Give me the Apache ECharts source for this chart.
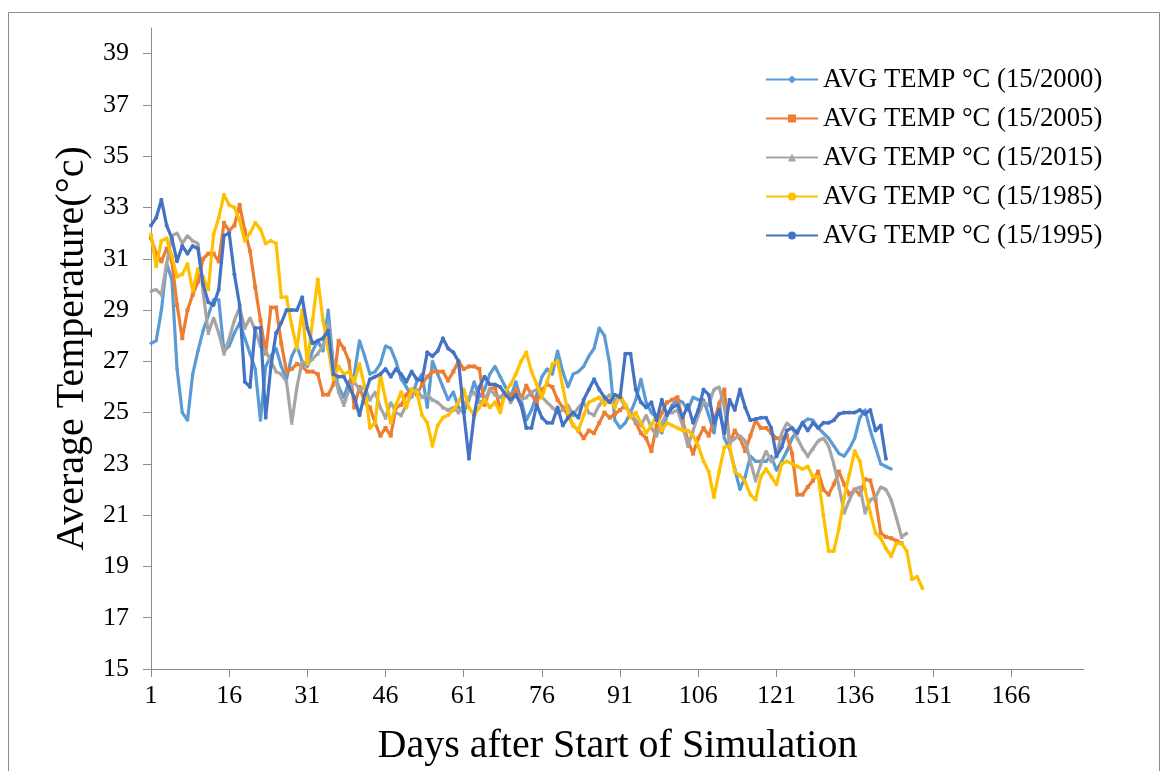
<!DOCTYPE html>
<html><head><meta charset="utf-8">
<script src="https://cdn.jsdelivr.net/npm/echarts@6.0.0/dist/echarts.min.js"></script>
<style>html,body{margin:0;padding:0;background:#fff}#c{width:1167px;height:771px}</style>
</head><body><div id="c"></div>
<script>
// ---- data ----
const days = []; for (let d = 1; d <= 180; d++) days.push(String(d));
const yTicks = [15, 17, 19, 21, 23, 25, 27, 29, 31, 33, 35, 37, 39];
const seriesNames = ['AVG TEMP °C (15/2000)', 'AVG TEMP °C (15/2005)', 'AVG TEMP °C (15/2015)', 'AVG TEMP °C (15/1985)', 'AVG TEMP °C (15/1995)'];

const temp2000 = [27.7, 27.8, 29.0, 30.8, 30.2, 26.7, 25.0, 24.7, 26.5, 27.4,
 28.2, 28.8, 29.4, 29.4, 27.4, 27.6, 28.1, 28.5, 27.9, 27.3,
 26.7, 24.7, 26.8, 27.2, 27.5, 26.8, 26.3, 27.2, 27.6, 27.0,
 26.8, 27.4, 27.8, 27.4, 29.0, 26.8, 26.0, 25.6, 26.2, 26.5,
 27.8, 27.2, 26.5, 26.6, 26.9, 27.6, 27.5, 27.0, 26.3, 26.0,
 25.6, 26.2, 26.5, 25.2, 27.0, 26.5, 26.0, 25.5, 25.8, 25.2,
 25.0, 25.5, 26.2, 25.6, 25.9, 26.5, 26.8, 26.4, 26.0, 25.6,
 26.2, 25.5, 24.7, 25.1, 25.7, 26.4, 26.7, 26.5, 27.4, 26.6,
 26.0, 26.5, 26.6, 26.8, 27.2, 27.5, 28.3, 28.0, 26.9, 24.7,
 24.4, 24.6, 25.0, 25.5, 26.3, 25.4, 25.0, 24.8, 24.2, 24.9,
 25.3, 25.5, 25.4, 25.1, 25.6, 25.5, 25.5, 24.9, 24.2, 25.4,
 24.0, 23.6, 22.8, 22.0, 22.5, 23.3, 23.1, 23.1, 23.1, 23.3,
 22.75, 23.1, 23.5, 24.0, 24.3, 24.6, 24.75, 24.7, 24.4, 24.2,
 24.0, 23.7, 23.4, 23.3, 23.6, 24.0, 24.8, 25.1, 24.3, 23.65,
 23.0, 22.9, 22.8];

const temp2005 = [31.8, 31.2, 30.9, 31.4, 30.9, 29.2, 27.9, 29.0, 29.6, 30.1,
 31.0, 31.2, 31.2, 30.9, 32.4, 32.1, 32.3, 33.1, 32.1, 31.3,
 29.9, 28.6, 27.3, 29.1, 29.1, 27.7, 26.6, 26.7, 26.9, 26.8,
 26.6, 26.6, 26.5, 25.7, 25.7, 26.1, 27.8, 27.5, 27.0, 25.2,
 26.0, 25.4, 25.2, 24.6, 24.1, 24.4, 24.1, 25.2, 25.3, 25.7,
 25.9, 25.7, 26.1, 26.4, 26.6, 26.6, 26.6, 26.25, 26.6, 27.0,
 26.7, 26.8, 26.8, 26.7, 25.3, 25.9, 26.0, 25.1, 25.8, 25.6,
 25.9, 25.5, 26.05, 25.7, 25.4, 25.9, 26.1, 26.0, 25.5, 25.2,
 24.9, 24.5, 24.3, 24.0, 24.3, 24.2, 24.6, 25.0, 24.8, 24.95,
 25.1, 25.3, 24.95, 24.6, 24.2, 24.0, 23.5, 24.5, 25.0, 25.4,
 25.5, 25.6, 24.7, 23.9, 23.4, 24.0, 24.4, 24.1, 24.7, 25.3,
 25.9, 23.8, 24.3, 24.0, 23.5, 24.1, 24.7, 24.4, 24.4, 24.2,
 24.0, 24.0, 24.1, 23.4, 21.8, 21.8, 22.1, 22.35, 22.7, 22.0,
 21.8, 22.2, 22.7, 22.2, 21.8, 22.0, 21.8, 22.4, 22.35, 21.6,
 20.3, 20.15, 20.1, 20.0, 19.9];

const temp2015 = [29.75, 29.8, 29.6, 30.8, 31.9, 32.0, 31.6, 31.9, 31.7, 31.6,
 29.7, 28.1, 28.7, 28.1, 27.3, 27.9, 28.6, 29.1, 28.3, 28.7,
 28.2, 27.6, 27.4, 27.0, 26.6, 26.5, 26.2, 24.6, 26.0, 27.0,
 26.9, 27.1, 27.3, 27.6, 28.5, 26.8, 25.8, 25.3, 25.9, 26.2,
 25.9, 26.0, 25.5, 25.8, 25.2, 24.8, 25.4, 25.0, 24.9, 25.3,
 25.7, 25.9, 25.6, 25.7, 25.5, 25.4, 25.2, 25.1, 25.2, 25.0,
 25.3, 25.6, 25.8, 25.4, 25.5, 25.9, 25.7, 25.6, 25.8, 25.4,
 25.7, 25.5, 25.6, 25.8, 25.9, 25.6, 25.4, 25.2, 25.0, 25.1,
 25.3, 24.9, 25.2, 25.4, 25.0, 24.9, 25.3, 25.5, 25.7, 25.5,
 25.6, 25.2, 25.0, 24.7, 24.5, 24.9, 24.4, 24.1, 24.6, 25.0,
 25.0, 25.1, 24.5, 23.7, 24.3, 24.9, 25.4, 25.3, 25.9, 26.0,
 25.2, 23.8, 24.0, 24.1, 23.9, 23.1, 22.35, 23.0, 23.5, 23.1,
 23.3, 24.2, 24.6, 24.4, 24.0, 23.6, 23.3, 23.6, 23.9, 24.0,
 23.7, 23.0, 22.1, 21.1, 21.6, 22.0, 22.1, 21.1, 21.6, 21.7,
 22.1, 22.0, 21.6, 20.9, 20.15, 20.3];

const temp1985 = [31.95, 30.7, 31.7, 31.8, 31.1, 30.3, 30.4, 30.8, 29.75, 30.6,
 30.3, 29.8, 31.95, 32.6, 33.5, 33.1, 33.0, 32.5, 31.7, 32.0,
 32.4, 32.15, 31.6, 31.7, 31.6, 29.5, 29.5, 28.4, 27.5, 29.0,
 26.9, 28.6, 30.2, 28.6, 27.5, 26.3, 26.8, 26.5, 26.6, 26.2,
 26.9, 26.0, 24.4, 24.6, 26.5, 25.5, 24.6, 25.3, 25.8, 25.2,
 25.9, 25.8, 24.9, 24.6, 23.7, 24.5, 24.8, 24.9, 25.1, 25.4,
 25.9, 25.2, 24.9, 25.2, 25.5, 25.2, 25.4, 25.0, 25.8, 26.1,
 26.5, 27.0, 27.35, 26.6, 26.1, 25.6, 26.2, 26.9, 27.0, 26.0,
 25.0, 24.5, 24.3, 24.9, 25.4, 25.5, 25.6, 25.3, 25.5, 25.2,
 25.7, 25.3, 24.8, 25.0, 24.6, 24.2, 24.5, 24.9, 24.3, 24.6,
 24.5, 24.4, 24.3, 24.3, 24.1, 23.7, 23.1, 22.7, 21.7, 22.7,
 23.65, 23.7, 22.7, 22.55, 22.3, 21.8, 21.6, 22.5, 22.8, 22.5,
 22.2, 23.0, 23.1, 23.0, 22.9, 22.8, 22.9, 22.5, 22.5, 21.0,
 19.6, 19.6, 20.5, 21.7, 22.6, 23.5, 23.1, 22.0, 21.1, 20.3,
 20.1, 19.7, 19.4, 19.9, 19.9, 19.6, 18.5, 18.6, 18.15];

const temp1995 = [32.3, 32.6, 33.3, 32.3, 31.8, 30.9, 31.5, 31.2, 31.5, 31.4,
 30.0, 29.3, 29.2, 29.8, 31.9, 32.0, 30.4, 29.2, 26.2, 26.0,
 28.3, 28.3, 24.8, 26.8, 28.1, 28.5, 29.0, 29.0, 29.0, 29.5,
 28.3, 27.7, 27.8, 27.9, 28.2, 26.5, 26.4, 26.4, 26.0, 25.6,
 24.9, 25.7, 26.3, 26.4, 26.5, 26.7, 26.4, 26.7, 26.5, 26.2,
 26.6, 26.3, 26.25, 27.35, 27.2, 27.4, 27.9, 27.5, 27.35, 27.0,
 25.0, 23.2, 24.9, 26.0, 26.4, 26.1, 26.1, 26.0, 25.7, 25.5,
 25.7, 25.3, 24.4, 24.4, 25.3, 24.8, 24.6, 24.6, 25.2, 24.5,
 24.8, 25.0, 24.8, 25.5, 25.9, 26.3, 25.9, 25.6, 25.4, 25.7,
 25.6, 27.3, 27.3, 25.9, 25.4, 25.2, 25.4, 24.7, 25.5, 24.9,
 25.2, 25.3, 24.8, 25.3, 24.6, 25.1, 25.9, 25.7, 24.6, 25.1,
 24.2, 25.5, 25.1, 25.9, 25.2, 24.7, 24.75, 24.8, 24.8, 24.4,
 23.3, 23.65, 24.3, 24.4, 24.2, 24.6, 24.3, 24.6, 24.4, 24.6,
 24.6, 24.7, 24.95, 25.0, 25.0, 25.0, 25.1, 24.95, 25.1, 24.3,
 24.5, 23.2];

// ---- chart ----
const FONT = '"Liberation Serif", "Times New Roman", serif';
const colors = ['#5B9BD5', '#ED7D31', '#A5A5A5', '#FFC000', '#4472C4'];
const symbols = ['diamond', 'rect', 'triangle', 'circle', 'circle'];
const datasets = [temp2000, temp2005, temp2015, temp1985, temp1995];

const chart = echarts.init(document.getElementById('c'), null, {renderer: 'canvas'});
chart.setOption({
  animation: false,
  backgroundColor: '#fff',
  color: colors,
  graphic: [{
    type: 'rect', silent: true, z: -10,
    shape: {x: 8.5, y: 12.5, width: 1151, height: 800},
    style: {fill: 'none', stroke: '#8c8c8c', lineWidth: 1}
  }],
  grid: {left: 151, right: 83, top: 28, bottom: 102, containLabel: false},
  legend: {
    orient: 'vertical', left: 765, top: 66, padding: 0,
    itemWidth: 52, itemHeight: 10, itemGap: 12,
    textStyle: {fontSize: 26.7, fontFamily: FONT, color: '#000', lineHeight: 26},
    data: seriesNames
  },
  xAxis: {
    type: 'category', data: days, boundaryGap: false,
    axisLine: {show: true, lineStyle: {color: '#8c8c8c', width: 1}},
    axisTick: {show: true, interval: 14, length: 8, lineStyle: {color: '#8c8c8c'}},
    axisLabel: {interval: 14, fontSize: 26, fontFamily: FONT, color: '#000', margin: 14},
    splitLine: {show: false},
    name: 'Days after Start of Simulation', nameLocation: 'middle', nameGap: 57,
    nameTextStyle: {fontSize: 40, fontFamily: FONT, color: '#000'}
  },
  yAxis: {
    type: 'value', min: 15, max: 40,
    axisLine: {show: true, lineStyle: {color: '#8c8c8c', width: 1}},
    axisTick: {show: true, length: 8, customValues: yTicks, lineStyle: {color: '#8c8c8c'}},
    axisLabel: {customValues: yTicks, fontSize: 26, fontFamily: FONT, color: '#000', margin: 22},
    splitLine: {show: false},
    name: 'Average Temperature(°c)', nameLocation: 'middle', nameGap: 44, nameRotate: 90,
    nameTextStyle: {fontSize: 40, fontFamily: FONT, color: '#000'}
  },
  series: seriesNames.map((n, i) => ({
    name: n, type: 'line', data: datasets[i],
    symbol: symbols[i], symbolSize: 4, showSymbol: true, showAllSymbol: true,
    lineStyle: {color: colors[i], width: 3.2},
    itemStyle: {color: colors[i]},
    z: 2 + i
  }))
});
</script>
</body></html>
